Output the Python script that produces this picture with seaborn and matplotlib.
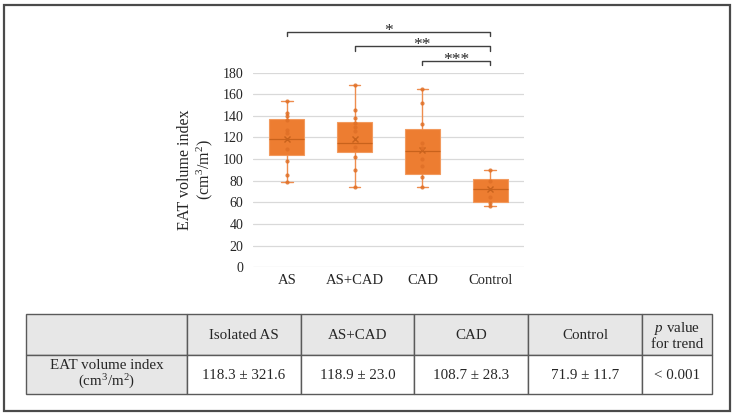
import matplotlib
matplotlib.use("Agg")
import matplotlib.pyplot as plt
from matplotlib.patches import Rectangle
import seaborn as sns
import pandas as pd

# ---------------- data ----------------
categories = ["AS", "AS+CAD", "CAD", "Control"]
q1 = [104.0, 106.5, 86.0, 60.7]
median = [118.4, 114.7, 107.6, 72.4]
q3 = [136.8, 134.7, 127.9, 81.7]
whisker_low = [78.6, 74.6, 74.0, 56.4]
whisker_high = [154.0, 168.0, 164.6, 90.3]
means = [118.3, 118.9, 108.7, 71.9]

as_points = [154.0, 143.0, 140.0, 136.0, 127.0, 124.0, 109.0, 98.0, 85.0, 78.6]
ascad_points = [168.0, 145.0, 138.0, 133.0, 130.0, 125.5, 111.6, 102.0, 90.0, 74.6]
cad_points = [164.6, 151.7, 132.2, 114.7, 110.0, 100.0, 93.7, 83.2, 74.0]
control_points = [90.3, 80.0, 65.4, 59.8, 56.4]

sig_left = [0, 1, 2]
sig_right = [3, 3, 3]
sig_labels = ["*", "**", "***"]
sig_heights = [217.7, 204.5, 190.9]
sig_drop = [4.0, 4.4, 3.7]

yticks = [0, 20, 40, 60, 80, 100, 120, 140, 160, 180]

table_header = ["", "Isolated AS", "AS+CAD", "CAD", "Control", "$p$ value\nfor trend"]
table_row = ["EAT volume index\n(cm$^3$/m$^2$)", "118.3 \u00b1 321.6", "118.9 \u00b1 23.0",
             "108.7 \u00b1 28.3", "71.9 \u00b1 11.7", "< 0.001"]

# ---------------- style ----------------
sns.set_theme(style="white")
plt.rcParams["font.family"] = ["Liberation Serif", "DejaVu Serif"]
plt.rcParams["mathtext.fontset"] = "custom"
plt.rcParams["mathtext.rm"] = "Liberation Serif"
plt.rcParams["mathtext.it"] = "Liberation Serif:italic"
plt.rcParams["mathtext.bf"] = "Liberation Serif:bold"

ORANGE = "#ED7D31"
DARK_OR = "#C8621C"
TXT = "#262626"

fig = plt.figure(figsize=(7.35, 4.17), dpi=100)
fig.patch.set_facecolor("white")

W, H = 735.0, 417.0
ax = fig.add_axes([253 / W, 1 - 267.3 / H, 271 / W, 194.8 / H])

# points
pt_vals, pt_groups = [], []
for cat, pts in zip(categories, [as_points, ascad_points, cad_points, control_points]):
    pt_vals += pts
    pt_groups += [cat] * len(pts)
df = pd.DataFrame({"group": pt_groups, "value": pt_vals})

# boxes
stats = []
for i, cat in enumerate(categories):
    stats.append(dict(label=cat, q1=q1[i], med=median[i], q3=q3[i],
                      whislo=whisker_low[i], whishi=whisker_high[i],
                      mean=means[i], fliers=[]))
ax.bxp(stats, positions=range(len(categories)), widths=0.52, patch_artist=True,
       showmeans=True, showfliers=False, manage_ticks=False, capwidths=0.17,
       boxprops=dict(facecolor=ORANGE, edgecolor="#F29A5E", linewidth=0.8),
       medianprops=dict(color=DARK_OR, linewidth=0.9),
       whiskerprops=dict(color="#EE8D4E", linewidth=1.0),
       capprops=dict(color="#EE8D4E", linewidth=1.0),
       meanprops=dict(marker="x", markeredgecolor=DARK_OR, markersize=4.5,
                      markeredgewidth=1.0))

sns.stripplot(data=df, x="group", y="value", order=categories, jitter=False,
              color="#E07027", size=3, linewidth=0, ax=ax, zorder=4, alpha=0.85)

ax.set_xlim(-0.5, 3.5)
ax.set_ylim(0, 180)
ax.set_yticks(yticks)
ax.set_yticklabels([str(t) for t in yticks])
ax.grid(axis="y", color="#D9D9D9", linewidth=0.9)
ax.grid(axis="x", visible=False)
ax.set_axisbelow(True)
for s in ax.spines.values():
    s.set_visible(False)
ax.tick_params(axis="both", length=0, colors=TXT)
ax.tick_params(axis="y", labelsize=10, pad=7)
ax.tick_params(axis="x", labelsize=10.5, pad=5)
ax.set_xlabel("")
ax.set_ylabel("EAT volume index\n(cm$^3$/m$^2$)", fontsize=11.5, color=TXT,
              labelpad=5, linespacing=1.1)

# significance brackets
for l, r, lab, h, d in zip(sig_left, sig_right, sig_labels, sig_heights, sig_drop):
    ax.plot([l, l, r, r], [h - d, h, h, h - d], color="#404040", linewidth=1.0,
            clip_on=False)
    ax.text((l + r) / 2, h - 3.2, lab, ha="center", va="baseline", fontsize=12.5,
            color=TXT, clip_on=False)

# ---------------- table & frame (figure pixel space) ----------------
tax = fig.add_axes([0, 0, 1, 1], zorder=-1)
tax.set_xlim(0, W)
tax.set_ylim(H, 0)
tax.axis("off")

col_edges = [26, 187, 301, 414, 528, 642, 712]
row_edges = [314, 354.5, 394]
HEAD = "#E7E7E7"
LINE = "#5A5A5A"

for j in range(len(col_edges) - 1):
    x0, x1 = col_edges[j], col_edges[j + 1]
    # header row
    tax.add_patch(Rectangle((x0, row_edges[0]), x1 - x0, row_edges[1] - row_edges[0],
                            facecolor=HEAD, edgecolor=LINE, linewidth=1.0))
    tax.text((x0 + x1) / 2, (row_edges[0] + row_edges[1]) / 2 + 1, table_header[j],
             ha="center", va="center", fontsize=10.8, color=TXT, linespacing=1.05)
    # data row
    tax.add_patch(Rectangle((x0, row_edges[1]), x1 - x0, row_edges[2] - row_edges[1],
                            facecolor=HEAD if j == 0 else "white", edgecolor=LINE,
                            linewidth=1.0))
    tax.text((x0 + x1) / 2, (row_edges[1] + row_edges[2]) / 2 + 1, table_row[j],
             ha="center", va="center", fontsize=10.8, color=TXT, linespacing=1.05)

tax.add_patch(Rectangle((4.5, 4.5), 725.5, 406, facecolor="none",
                        edgecolor="#4A4A4A", linewidth=1.6))

fig.savefig("out.png", dpi=100, facecolor="white")
